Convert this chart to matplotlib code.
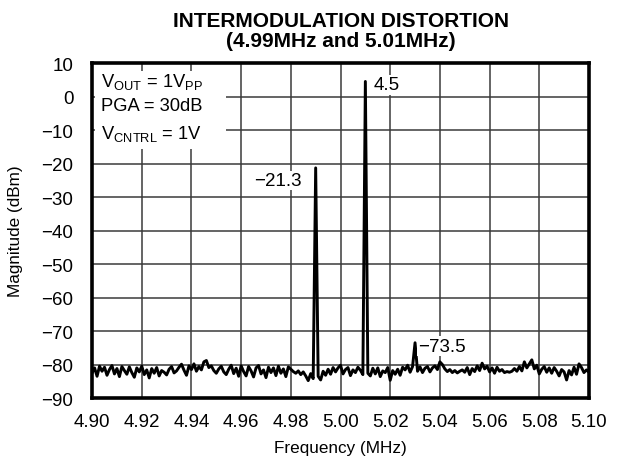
import matplotlib
matplotlib.use('Agg')
import matplotlib.pyplot as plt
import numpy as np
from matplotlib.patches import Rectangle

# frequency axis: 4.900 .. 5.100 MHz in 1 kHz steps
freq_start = 4.900
freq_step = 0.001

# magnitude trace (dBm)
magnitude = [
    -82.5, -81.0, -83.5, -80.5, -82.0, -80.8, -83.2, -81.5, -80.3, -82.8,
    -81.2, -83.6, -80.6, -81.8, -82.9, -80.7, -82.4, -83.8, -81.0, -82.2,
    -80.5, -83.0, -81.6, -84.0, -81.2, -82.6, -80.9, -83.4, -81.8, -82.3,
    -83.1, -81.4, -80.6, -82.5, -81.9, -80.8, -79.9, -81.7, -83.2, -80.4,
    -81.5, -79.8, -82.0, -80.6, -81.6, -79.2, -78.8, -80.9, -80.4, -81.8,
    -82.6, -81.3, -80.5, -82.2, -83.0, -81.4, -80.2, -82.7, -81.1, -83.5,
    -80.4, -82.1, -83.4, -80.6, -81.9, -83.7, -81.0, -80.3, -82.8, -81.6,
    -83.9, -80.8, -82.4, -81.0, -83.3, -80.5, -82.6, -81.3, -83.6, -80.7,
    -81.4, -82.1, -82.6, -81.9, -83.0, -82.2, -83.4, -84.8, -82.7, -84.2,
    -21.3, -83.5, -84.6, -82.0, -83.2, -81.4, -82.9, -80.9, -82.2, -81.0,
    -80.2, -82.8, -81.5, -80.9, -83.3, -81.6, -82.4, -80.8, -81.7, -83.0,
    4.5, -82.6, -83.4, -81.1, -82.8, -81.0, -83.6, -81.9, -82.4, -80.9,
    -84.7, -81.8, -82.9, -81.4, -83.2, -80.8, -81.6, -80.2, -82.3, -80.6,
    -73.5, -82.0, -80.7, -82.4, -81.1, -80.6, -82.2, -81.0, -80.4, -81.5,
    -79.2, -80.0, -81.3, -82.1, -81.5, -82.4, -81.8, -82.5, -82.0, -81.6,
    -82.3, -80.9, -83.0, -81.2, -82.1, -80.4, -81.8, -79.6, -81.3, -80.5,
    -82.2, -81.0, -82.6, -80.8, -82.0, -81.5, -82.4, -82.1, -82.3, -82.0,
    -81.2, -82.0, -80.6, -81.9, -79.2, -81.0, -79.8, -78.6, -81.3, -80.2,
    -82.8, -81.4, -80.6, -82.3, -81.0, -82.6, -80.9, -82.0, -83.4, -81.5,
    -82.2, -84.6, -81.8, -83.1, -80.8, -82.9, -79.8, -80.9, -82.4, -81.6,
    -82.3,
]

# marker labels: (frequency, value, text)
peak_freqs = [4.990, 5.010, 5.030]
peak_labels = ["\u221221.3", "4.5", "\u221273.5"]

x_ticks = [4.90, 4.92, 4.94, 4.96, 4.98, 5.00, 5.02, 5.04, 5.06, 5.08, 5.10]
y_ticks = [10, 0, -10, -20, -30, -40, -50, -60, -70, -80, -90]

conditions = [
    r"V$_{\mathrm{OUT}}$ = 1V$_{\mathrm{PP}}$",
    "PGA = 30dB",
    r"V$_{\mathrm{CNTRL}}$ = 1V",
]

plt.rcParams['font.family'] = ['Liberation Sans', 'DejaVu Sans']
plt.rcParams['mathtext.fontset'] = 'custom'
plt.rcParams['mathtext.rm'] = 'Liberation Sans'
plt.rcParams['mathtext.it'] = 'Liberation Sans:italic'
plt.rcParams['mathtext.bf'] = 'Liberation Sans:bold'

freq = freq_start + freq_step * np.arange(len(magnitude))

fig = plt.figure(figsize=(6.18, 4.64), dpi=100, facecolor='white')
ax = fig.add_axes([0.149, 0.140, 0.804, 0.722])

ax.set_xlim(4.90, 5.10)
ax.set_ylim(-90, 10)
ax.set_xticks(x_ticks)
ax.set_xticklabels([f"{t:.2f}" for t in x_ticks])
ax.set_yticks(y_ticks)
ax.tick_params(length=0, labelsize=13.5)
ax.tick_params(axis='y', pad=13.5)
ax.tick_params(axis='x', pad=11)
ax.grid(True, color='#3a3a3a', linewidth=1.1)
ax.set_axisbelow(True)
for sp in ax.spines.values():
    sp.set_linewidth(2.6)

# white area behind the conditions text
ax.add_patch(Rectangle((0.006, 0.743), 0.264, 0.232, transform=ax.transAxes,
                       facecolor='white', edgecolor='none', zorder=1.5))

ax.plot(freq, magnitude, color='black', linewidth=2.1, zorder=3)

# peak labels
idx = [int(round((f - freq_start) / freq_step)) for f in peak_freqs]
ax.text(peak_freqs[0] - 0.0055, magnitude[idx[0]] - 3.8, peak_labels[0],
        ha='right', va='center', fontsize=13.5,
        bbox=dict(facecolor='white', edgecolor='none', pad=1), zorder=4)
ax.text(peak_freqs[1] + 0.0033, magnitude[idx[1]] - 1.0, peak_labels[1],
        ha='left', va='center', fontsize=13.5,
        bbox=dict(facecolor='white', edgecolor='none', pad=1), zorder=4)
ax.text(peak_freqs[2] + 0.0012, magnitude[idx[2]] - 1.0, peak_labels[2],
        ha='left', va='center', fontsize=13.5,
        bbox=dict(facecolor='white', edgecolor='none', pad=1), zorder=4)

for i, line in enumerate(conditions):
    ax.text(0.017, [0.945, 0.872, 0.790][i], line, transform=ax.transAxes,
            ha='left', va='center', fontsize=13.2, zorder=4)

ax.set_xlabel("Frequency (MHz)", fontsize=12.3, labelpad=7)
ax.set_ylabel("Magnitude (dBm)", fontsize=12.3, labelpad=13)
ax.set_title("INTERMODULATION DISTORTION\n(4.99MHz and 5.01MHz)",
             fontsize=15, fontweight='bold', pad=12, linespacing=1.12)

fig.savefig("out.png", dpi=100, facecolor='white')
